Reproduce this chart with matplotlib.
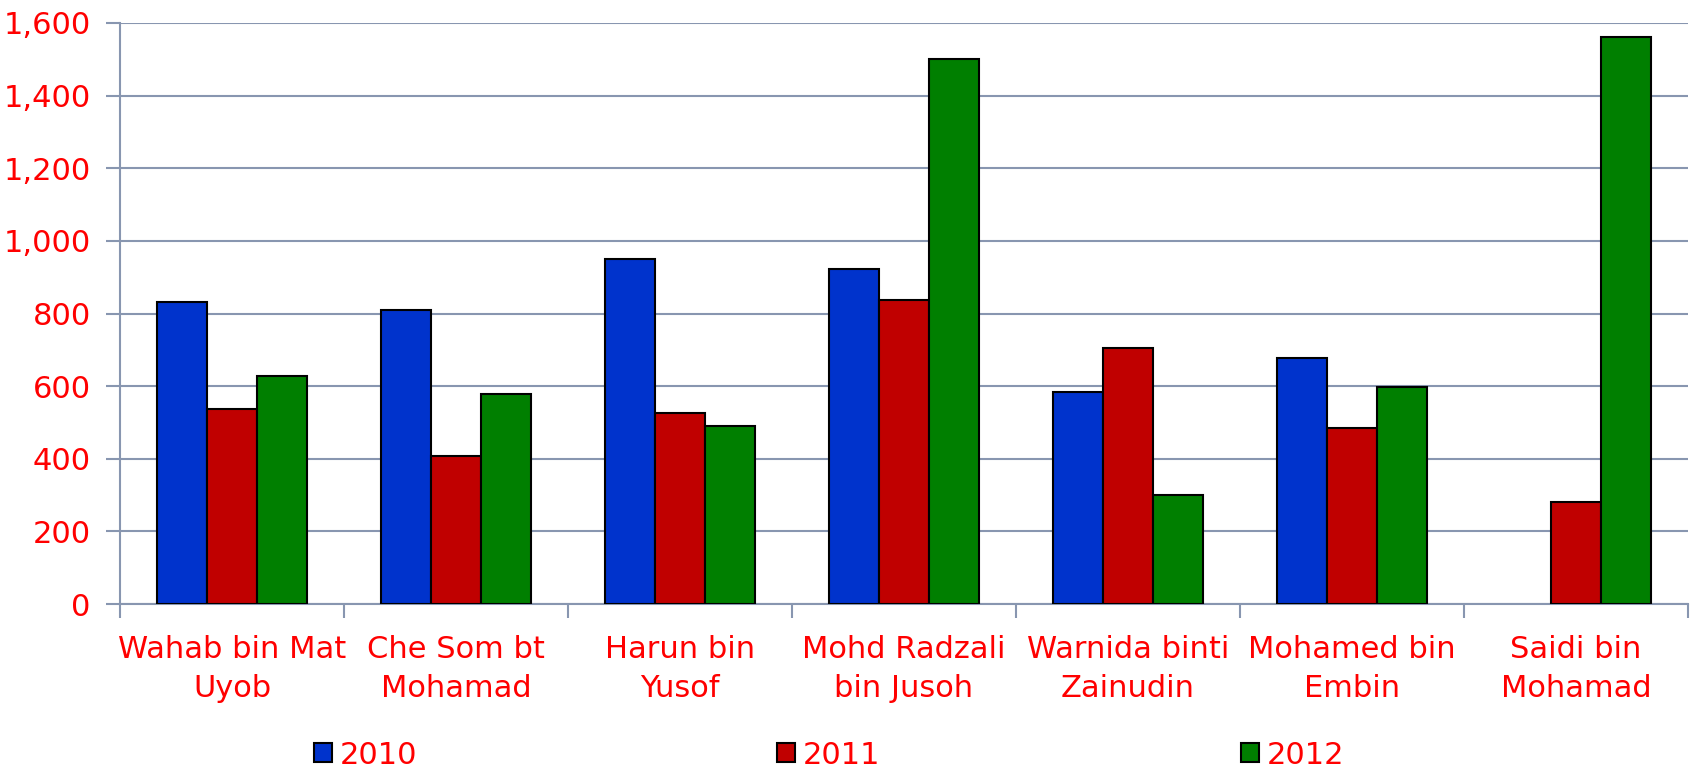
import numpy as np
import matplotlib.pyplot as plt
from matplotlib.ticker import FuncFormatter, FixedLocator

plt.rcParams['font.family'] = ['DejaVu Sans']

# data
names = ['Wahab bin Mat\nUyob', 'Che Som bt\nMohamad', 'Harun bin\nYusof',
         'Mohd Radzali\nbin Jusoh', 'Warnida binti\nZainudin', 'Mohamed bin\nEmbin',
         'Saidi bin\nMohamad']
years = ['2010', '2011', '2012']
v2010 = [833, 809, 949, 923, 583, 678, np.nan]  # no 2010 bar for Saidi
v2011 = [536, 407, 526, 836, 705, 485, 282]
v2012 = [628, 577, 491, 1500, 300, 598, 1561]
colors = ['#0033CC', '#C00000', '#007F00']

grid_col = '#8896B0'
red = '#FF0000'
fs = 22

fig = plt.figure(figsize=(16.96, 7.69), dpi=100)
ax = fig.add_axes([120/1696, 1 - 604/769, (1688-120)/1696, (604-23)/769])

x = np.arange(len(names))
w = 0.223
bars = []
for i, vals in enumerate([v2010, v2011, v2012]):
    b = ax.bar(x + (i - 1) * w, vals, w, color=colors[i], edgecolor='black',
               linewidth=1.5, label=years[i], zorder=3)
    bars.append(b)

ax.set_xlim(-0.5, len(names) - 0.5)
ax.set_ylim(0, 1600)
ax.set_yticks(np.arange(0, 1601, 200))
ax.yaxis.set_major_formatter(FuncFormatter(lambda v, p: f'{int(v):,}'))
ax.grid(axis='y', color=grid_col, linewidth=1.5, zorder=0)

# ticks at category boundaries, labels at centres
ax.xaxis.set_major_locator(FixedLocator(np.arange(-0.5, len(names), 1)))
ax.xaxis.set_minor_locator(FixedLocator(x))
ax.set_xticklabels([], minor=False)
ax.set_xticklabels(names, minor=True, linespacing=1.45)
ax.tick_params(axis='x', which='major', length=10, width=1.5, color=grid_col, direction='out')
ax.tick_params(axis='x', which='minor', length=0, pad=22, labelsize=fs, labelcolor=red)
ax.tick_params(axis='y', length=10, width=1.5, color=grid_col, pad=11, labelsize=fs, labelcolor=red)

for s in ['top', 'right']:
    ax.spines[s].set_visible(False)
for s in ['left', 'bottom']:
    ax.spines[s].set_color(grid_col)
    ax.spines[s].set_linewidth(1.5)

fig.legend(handles=[b[0] for b in bars], labels=years, loc='center',
           bbox_to_anchor=(314/1696, 1 - 755/769, 1030/1696, 0),
           mode='expand', ncol=3, frameon=False, fontsize=fs,
           borderpad=0, borderaxespad=0,
           handlelength=0.59, handleheight=0.59, handletextpad=0.25, labelcolor=red)

fig.savefig('out.png', dpi=100)
